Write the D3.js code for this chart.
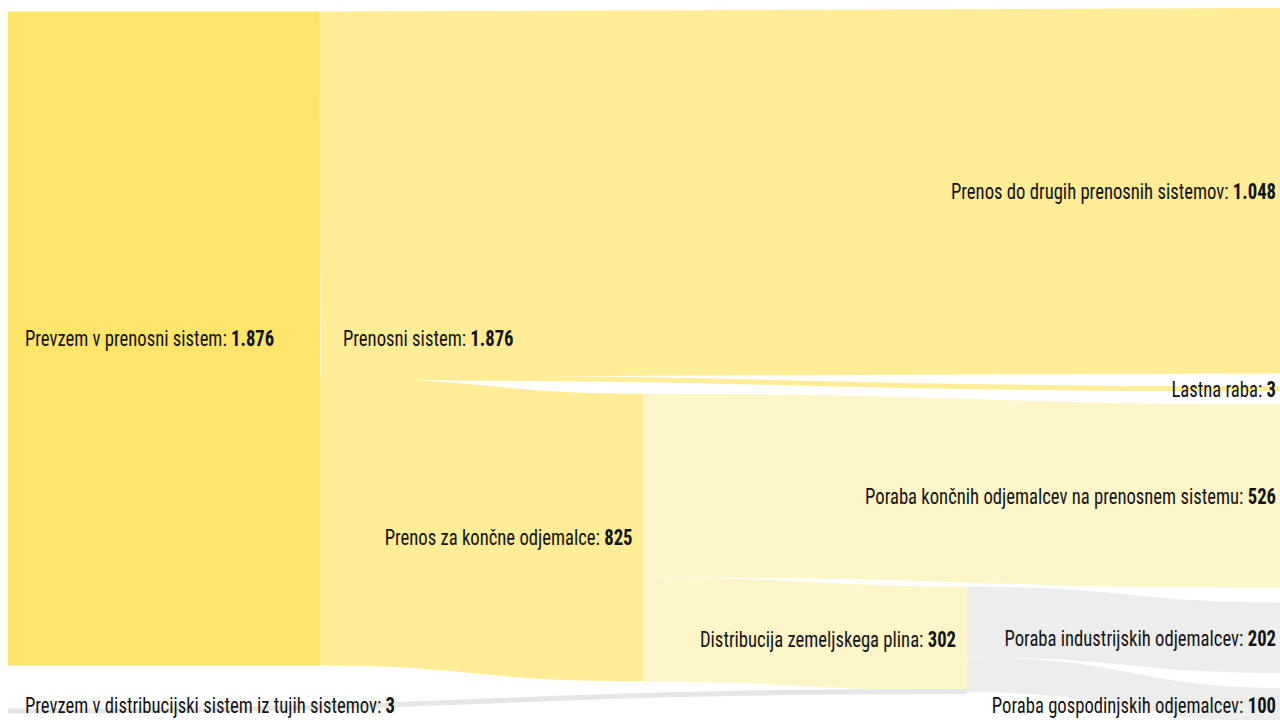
<!DOCTYPE html>
<html><head><meta charset="utf-8">
<script src="https://cdn.jsdelivr.net/npm/d3@7"></script>
<style>
html,body{margin:0;padding:0;background:#fff;}
svg{display:block;}
.lbl{font-family:"Roboto Condensed","Liberation Sans Narrow","DejaVu Sans Condensed",sans-serif;font-size:22.5px;fill:#141414;}
.lbl .v{font-weight:bold;}
</style></head><body>
<svg id="chart" width="1280" height="720"></svg>
<script>
// ---------- data ----------
const nodeNames = [
  "Prevzem v prenosni sistem",
  "Prevzem v distribucijski sistem iz tujih sistemov",
  "Prenosni sistem",
  "Prenos do drugih prenosnih sistemov",
  "Lastna raba",
  "Prenos za končne odjemalce",
  "Poraba končnih odjemalcev na prenosnem sistemu",
  "Distribucija zemeljskega plina",
  "Poraba industrijskih odjemalcev",
  "Poraba gospodinjskih odjemalcev"
];
const nodeColors = ["#FDE46A","#E6E6E6","#FEEC96","#FEEC96","#FEEC96","#FEF5C9","#FEF5C9","#EDEDED","#EDEDED","#EDEDED"];
const linkSources = [0, 2, 2, 2, 5, 5, 1, 7, 7];
const linkTargets = [2, 3, 4, 5, 6, 7, 7, 8, 9];
const linkValues  = [1876, 1048, 3, 825, 526, 299, 3, 202, 100];

// ---------- setup ----------
const W = 1280, H = 720;
const svg = d3.select("#chart");
const fmt = d3.formatLocale({decimal: ",", thousands: ".", grouping: [3], currency: ["", ""]}).format(",d");

const nodes = nodeNames.map((name, i) => ({name, color: nodeColors[i]}));
const links = linkValues.map((value, i) => ({source: linkSources[i], target: linkTargets[i], value, index: i}));

// ---------- sankey layout (d3-sankey algorithm) ----------
function sankey(nodes, links, opt) {
  const {x0, x1, y0, y1, dx, dy, iterations} = opt;
  nodes.forEach((n, i) => { n.index = i; n.sourceLinks = []; n.targetLinks = []; });
  links.forEach(l => {
    l.source = nodes[l.source]; l.target = nodes[l.target];
    l.source.sourceLinks.push(l); l.target.targetLinks.push(l);
  });
  nodes.forEach(n => n.value = Math.max(d3.sum(n.sourceLinks, l => l.value), d3.sum(n.targetLinks, l => l.value)));
  let current = new Set(nodes), next = new Set(), x = 0;
  while (current.size) {
    for (const n of current) { n.depth = x; for (const l of n.sourceLinks) next.add(l.target); }
    x++; current = next; next = new Set();
  }
  const nCols = d3.max(nodes, n => n.depth) + 1;
  const xPos = d3.scaleLinear().domain([0, nCols - 1]).range([x0, x1 - dx]);
  const columns = d3.range(nCols).map(() => []);
  nodes.forEach(n => {
    n.layer = n.sourceLinks.length ? n.depth : nCols - 1;
    n.x0 = xPos(n.layer); n.x1 = n.x0 + dx;
    columns[n.layer].push(n);
  });
  const py = Math.min(dy, (y1 - y0) / (d3.max(columns, c => c.length) - 1));
  const ky = d3.min(columns, c => (y1 - y0 - (c.length - 1) * py) / d3.sum(c, n => n.value));
  const hScale = d3.scaleLinear().domain([0, 1]).range([0, ky]);

  const byBreadth = (a, b) => a.y0 - b.y0;
  const bySrc = (a, b) => byBreadth(a.source, b.source) || a.index - b.index;
  const byTgt = (a, b) => byBreadth(a.target, b.target) || a.index - b.index;

  function reorderLinks(ns) { for (const n of ns) { n.sourceLinks.sort(byTgt); n.targetLinks.sort(bySrc); } }
  function reorderNodeLinks(n) {
    for (const l of n.targetLinks) l.source.sourceLinks.sort(byTgt);
    for (const l of n.sourceLinks) l.target.targetLinks.sort(bySrc);
  }
  for (const col of columns) {
    let y = y0;
    for (const n of col) {
      n.y0 = y; n.y1 = y + hScale(n.value); y = n.y1 + py;
      for (const l of n.sourceLinks) l.width = hScale(l.value);
    }
    y = (y1 - y + py) / (col.length + 1);
    col.forEach((n, i) => { n.y0 += y * (i + 1); n.y1 += y * (i + 1); });
    reorderLinks(col);
  }
  function targetTop(s, t) {
    let y = s.y0 - (s.sourceLinks.length - 1) * py / 2;
    for (const l of s.sourceLinks) { if (l.target === t) break; y += l.width + py; }
    for (const l of t.targetLinks) { if (l.source === s) break; y -= l.width; }
    return y;
  }
  function sourceTop(s, t) {
    let y = t.y0 - (t.targetLinks.length - 1) * py / 2;
    for (const l of t.targetLinks) { if (l.source === s) break; y += l.width + py; }
    for (const l of s.sourceLinks) { if (l.target === t) break; y -= l.width; }
    return y;
  }
  function collTB(ns, y, i, a) { for (; i < ns.length; ++i) { const n = ns[i]; const d = (y - n.y0) * a; if (d > 1e-6) { n.y0 += d; n.y1 += d; } y = n.y1 + py; } }
  function collBT(ns, y, i, a) { for (; i >= 0; --i) { const n = ns[i]; const d = (n.y1 - y) * a; if (d > 1e-6) { n.y0 -= d; n.y1 -= d; } y = n.y0 - py; } }
  function resolve(ns, a) {
    const i = ns.length >> 1, s = ns[i];
    collBT(ns, s.y0 - py, i - 1, a); collTB(ns, s.y1 + py, i + 1, a);
    collBT(ns, y1, ns.length - 1, a); collTB(ns, y0, 0, a);
  }
  function relaxLR(alpha, beta) {
    for (let i = 1; i < columns.length; ++i) {
      const col = columns[i];
      for (const t of col) {
        let y = 0, w = 0;
        for (const l of t.targetLinks) { const v = l.value * (t.layer - l.source.layer); y += targetTop(l.source, t) * v; w += v; }
        if (!(w > 0)) continue;
        const d = (y / w - t.y0) * alpha; t.y0 += d; t.y1 += d; reorderNodeLinks(t);
      }
      col.sort(byBreadth); resolve(col, beta);
    }
  }
  function relaxRL(alpha, beta) {
    for (let i = columns.length - 2; i >= 0; --i) {
      const col = columns[i];
      for (const s of col) {
        let y = 0, w = 0;
        for (const l of s.sourceLinks) { const v = l.value * (l.target.layer - s.layer); y += sourceTop(s, l.target) * v; w += v; }
        if (!(w > 0)) continue;
        const d = (y / w - s.y0) * alpha; s.y0 += d; s.y1 += d; reorderNodeLinks(s);
      }
      col.sort(byBreadth); resolve(col, beta);
    }
  }
  for (let i = 0; i < iterations; ++i) {
    const alpha = Math.pow(0.99, i), beta = Math.max(1 - alpha, (i + 1) / iterations);
    relaxRL(alpha, beta); relaxLR(alpha, beta);
  }
  for (const n of nodes) {
    let a = n.y0, b = n.y0;
    for (const l of n.sourceLinks) { l.y0 = a + l.width / 2; a += l.width; }
    for (const l of n.targetLinks) { l.y1 = b + l.width / 2; b += l.width; }
  }
}

sankey(nodes, links, {x0: -3.5, x1: 1290.5, y0: 8, y1: 723, dx: 0, dy: 15, iterations: 12});

// ---------- draw ----------
svg.append("defs").append("clipPath").attr("id", "clip")
  .append("rect").attr("x", 8).attr("y", 0).attr("width", W - 8).attr("height", H);

const linkPath = d3.linkHorizontal()
  .source(l => [l.source.x1, l.y0])
  .target(l => [l.target.x0, l.y1]);

svg.append("g").attr("clip-path", "url(#clip)")
  .selectAll("path").data(links).join("path")
  .attr("d", linkPath)
  .attr("fill", "none")
  .attr("stroke", l => l.source.color)
  .attr("stroke-width", l => Math.max(5, l.width));

const lbl = svg.append("g").attr("class", "lbl")
  .selectAll("text").data(nodes).join("text")
  .attr("transform", n => {
    const left = n.x0 < W / 2;
    const x = left ? Math.max(n.x1 + 23, 25) : Math.min(n.x0 - 11, W - 4);
    const y = Math.min((n.y0 + n.y1) / 2, H - 15);
    return `translate(${x},${y}) scale(0.83,1)`;
  })
  .attr("dy", "0.35em")
  .attr("text-anchor", n => n.x0 < W / 2 ? "start" : "end");
lbl.append("tspan").text(n => n.name + ": ");
lbl.append("tspan").attr("class", "v").text(n => fmt(n.value));
</script>
</body></html>
